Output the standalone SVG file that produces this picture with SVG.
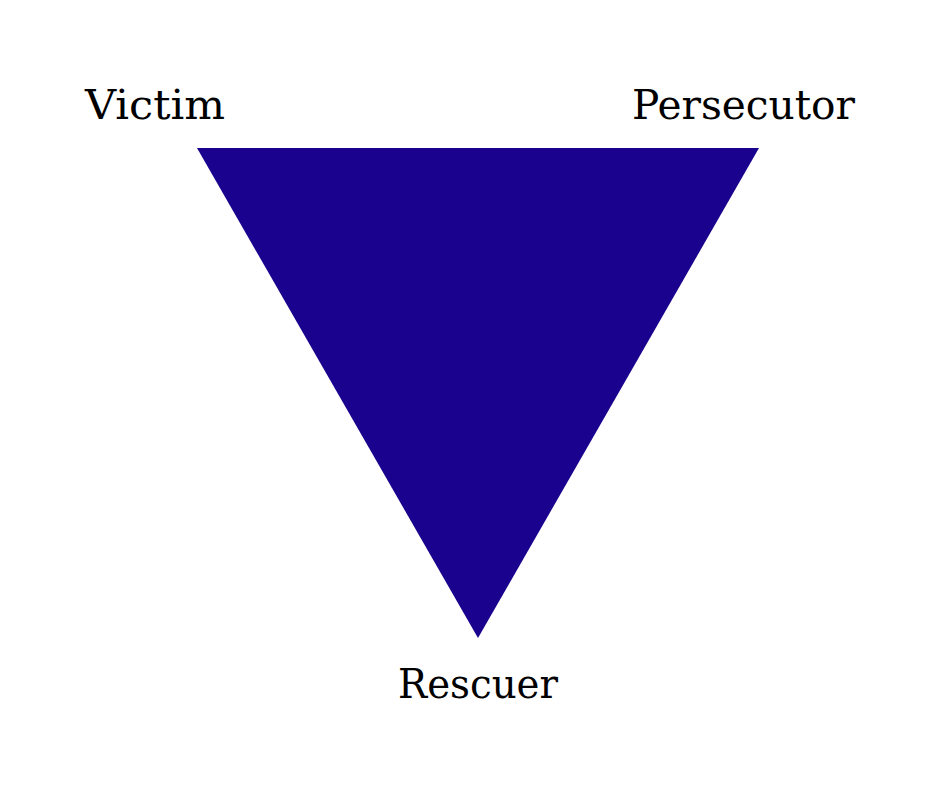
<svg xmlns="http://www.w3.org/2000/svg" width="940" height="788" viewBox="0 0 940 788">
<style>
.lbl{font-family:"DejaVu Serif","Liberation Serif",serif;font-size:41px;fill:#000}
</style>
<rect width="940" height="788" fill="#fff"/>
<g id="triangle"><polygon points="197,148 759,148 478,638" fill="#1a028f"/></g>
<g id="victim"><text class="lbl" x="85" y="119" textLength="140" lengthAdjust="spacingAndGlyphs">Victim</text></g>
<g id="persecutor"><text class="lbl" x="632" y="119" textLength="223" lengthAdjust="spacingAndGlyphs">Persecutor</text></g>
<g id="rescuer"><text class="lbl" x="398" y="698" textLength="160" lengthAdjust="spacingAndGlyphs">Rescuer</text></g>
<g id="connectors"/>
</svg>
